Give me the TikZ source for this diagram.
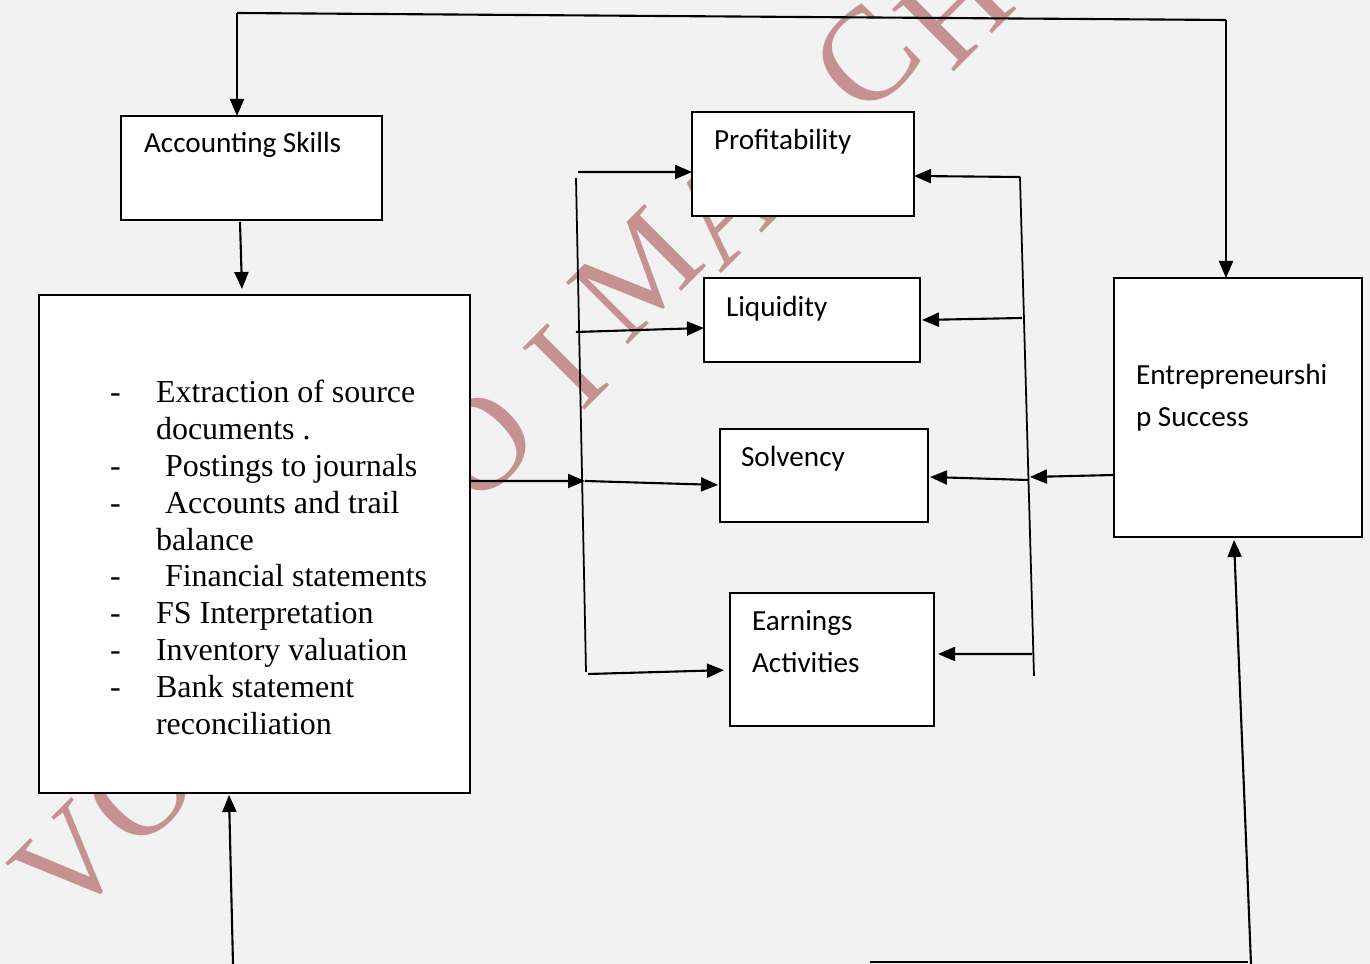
\documentclass[tikz,border=0pt]{standalone}
\usepackage{fontspec}
\setmainfont{Liberation Serif}
\newfontfamily\calibri{Carlito}
\usetikzlibrary{arrows.meta}
\definecolor{bgc}{RGB}{242,242,242}
\definecolor{wmc}{RGB}{197,145,145}

\begin{document}
\begin{tikzpicture}[line width=0.6pt,
    box/.style={draw, fill=white, inner sep=0pt, outer sep=0pt},
    lbl/.style={font=\calibri\fontsize{8.3}{11.95}\selectfont, anchor=base west, inner sep=0pt, align=left},
    arr/.style={-{Triangle[length=0.17cm,width=0.14cm]}},
    wmark/.style={text=wmc, font=\fontsize{38}{38}\selectfont, rotate=45, inner sep=0pt}]
    \fill[bgc] (0,0) rectangle (13.70,9.64);
    \useasboundingbox (0,0) rectangle (13.70,9.64);

    % watermark
    \foreach \x/\y/\l [count=\i] in {0.70/1.02/V, 1.40/1.74/O, 4.80/5.19/O, 5.66/5.97/I, 6.37/6.89/M,
        7.23/7.55/A, 8.66/9.06/C, 9.55/9.55/H}
        \node[wmark] (wm\i) at (\x,\y) {\l};

    % boxes
    \node[box, minimum width=2.61cm, minimum height=1.04cm] (acc) at (2.515,7.96) {};
    \node[box, minimum width=4.31cm, minimum height=4.98cm] (skills) at (2.545,4.20) {};
    \node[box, minimum width=2.22cm, minimum height=1.04cm] (prof) at (8.03,8.00) {};
    \node[box, minimum width=2.16cm, minimum height=0.84cm] (liq) at (8.12,6.44) {};
    \node[box, minimum width=2.08cm, minimum height=0.93cm] (solv) at (8.24,4.885) {};
    \node[box, minimum width=2.04cm, minimum height=1.33cm] (earn) at (8.32,3.045) {};
    \node[box, minimum width=2.48cm, minimum height=2.59cm] (ent) at (12.38,5.565) {};

    \node[lbl] (acct) at ([shift={(0.22,-0.37)}]acc.north west) {Accounting Skills};
    \node[lbl] (proft) at ([shift={(0.21,-0.38)}]prof.north west) {Profitability};
    \node[lbl] (liqt) at ([shift={(0.21,-0.39)}]liq.north west) {Liquidity};
    \node[lbl] (solvt) at ([shift={(0.20,-0.38)}]solv.north west) {Solvency};
    \node[lbl] (earnt) at ([shift={(0.21,-0.80)}]earn.north west) {Earnings\\Activities};
    \node[lbl] (entt) at ([shift={(0.21,-1.49)}]ent.north west) {Entrepreneurshi\\p Success};

    \node[anchor=base west, inner sep=0pt, font=\fontsize{9.1}{10.47}\selectfont] (skillst)
        at ([shift={(0.70,-1.08)}]skills.north west) {%
        \begin{tabular}[t]{@{}p{0.46cm}@{}l@{}}
            - & Extraction of source\\
              & documents .\\
            - & \hspace{0.09cm}Postings to journals\\
            - & \hspace{0.09cm}Accounts and trail\\
              & balance\\
            - & \hspace{0.09cm}Financial statements\\
            - & FS Interpretation\\
            - & Inventory valuation\\
            - & Bank statement\\
              & reconciliation
        \end{tabular}};

    % top loop
    \coordinate (tl) at (2.37,9.51);
    \coordinate (tr) at (12.26,9.44);
    \draw (tl) -- (tr);
    \draw[arr] (tl) -- (tl |- acc.north);
    \draw[arr] (tr) -- (tr |- ent.north);
    \draw[arr] ([xshift=-0.115cm,yshift=-0.02cm]acc.south) -- ([xshift=-0.125cm,yshift=0.06cm]skills.north);

    % left bus
    \coordinate (lb1) at (5.76,7.86);
    \coordinate (lb2) at (5.86,2.92);
    \coordinate (lp) at (5.78,7.92);
    \coordinate (ll) at (5.76,6.32);
    \coordinate (lm) at (5.85,4.83);
    \coordinate (le) at (5.88,2.90);
    \draw[line width=0.5pt] (lb1) -- (lb2);
    \draw[arr] ([yshift=0.63cm]skills.east) -- (lm);
    \draw[arr] (lp) -- ([yshift=-0.08cm]prof.west);
    \draw[arr] (ll) -- ([yshift=-0.08cm]liq.west);
    \draw[arr, shorten >=0.02cm] (lm) -- ([yshift=-0.095cm]solv.west);
    \draw[arr, shorten >=0.06cm] (le) -- ([yshift=-0.105cm]earn.west);

    % right bus
    \coordinate (rb1) at (10.20,7.87);
    \coordinate (rb2) at (10.34,2.88);
    \coordinate (rl) at (10.22,6.46);
    \coordinate (rs) at (10.28,4.84);
    \coordinate (re) at (10.32,3.10);
    \coordinate (rm) at (10.30,4.87);
    \draw[line width=0.5pt] (rb1) -- (rb2);
    \draw[arr] (rb1) -- ([yshift=-0.12cm]prof.east);
    \draw[arr] (rl) -- ([xshift=0.02cm]liq.east);
    \draw[arr] (rs) -- ([xshift=0.02cm,yshift=-0.015cm]solv.east);
    \draw[arr, shorten >=0.04cm] (re) -- ([yshift=0.055cm]earn.east);
    \draw[arr] ([yshift=-0.675cm]ent.west) -- (rm);

    % bottom loop
    \coordinate (bl) at (2.33,0);
    \coordinate (br) at (12.51,0);
    \coordinate (bm) at (8.70,0.02);
    \coordinate (bme) at (12.48,0.02);
    \draw[arr] (bl) -- ([xshift=-0.255cm,yshift=-0.02cm]skills.south);
    \draw[arr] (br) -- ([xshift=-0.04cm,yshift=-0.03cm]ent.south);
    \draw (bm) -- (bme);
\end{tikzpicture}
\end{document}
